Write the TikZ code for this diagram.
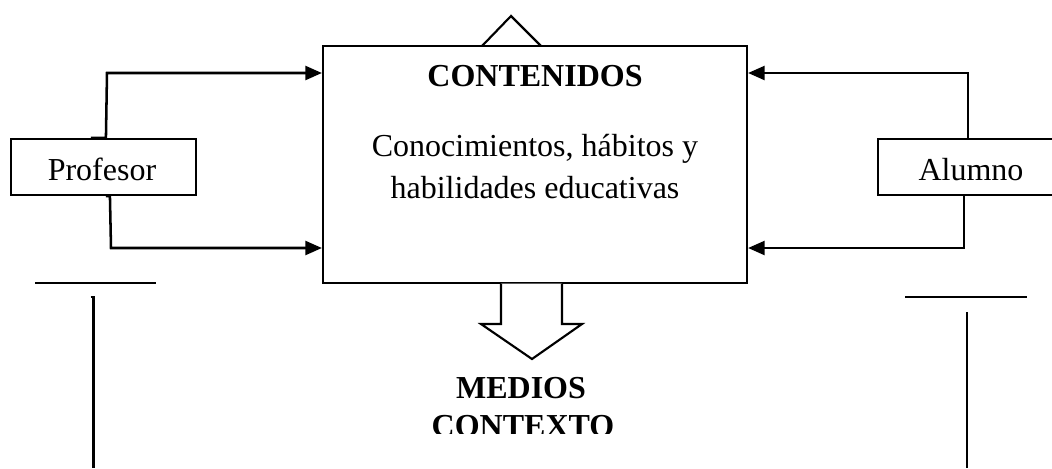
\documentclass[tikz,border=0pt]{standalone}
\usepackage{fontspec}
\setmainfont{Liberation Serif}
\usetikzlibrary{arrows.meta,calc}
\begin{document}
\begin{tikzpicture}[x=0.75pt,y=-0.75pt,
  txt/.style={font=\fontsize{24}{29}\selectfont, inner sep=0pt, anchor=base},
  btxt/.style={txt, font=\fontsize{24}{29}\selectfont\bfseries},
  boxed/.style={draw, inner sep=0pt, line width=1.6pt},
  thin/.style={line width=1.6pt},
  conn/.style={line width=1.9pt},
  arr/.style={conn, -{Triangle[length=12.5pt,width=10.5pt]}}]
\useasboundingbox (0,0) rectangle (1052,468);
\clip (0,0) rectangle (1052,468);
% boxes
\node[boxed, minimum width=318pt, minimum height=177.75pt] (main) at (535,164.5) {};
\node[boxed, minimum width=138.75pt, minimum height=42pt] (prof) at (103.5,167) {};
\node[boxed, minimum width=142.5pt, minimum height=42pt] (alum) at (973,167) {};
% texts
\node[btxt] (cont) at (535,86) {CONTENIDOS};
\node[txt] (l1) at (535,156) {Conocimientos, hábitos y};
\node[txt] (l2) at (535,198) {habilidades educativas};
\node[txt] (ptxt) at (102,180) {Profesor};
\node[txt] (atxt) at (971,180) {Alumno};
\node[btxt] (med) at (521,398) {MEDIOS};
\begin{scope}
\clip (380,400) rectangle (680,433);
\node[btxt] (ctx) at (523,436) {CONTEXTO};
\end{scope}
% triangle on top
\coordinate (tl) at (482,46);
\coordinate (tt) at (511,16);
\coordinate (tr) at (541,46);
\draw[thin] (tl) -- (tt) -- (tr);
% block arrow down
\draw[thin, fill=white] (501,283.5) -- (501,324) -- (481,324) -- (532,359) -- (582,324) -- (562,324) -- (562,283.5);
% connectors Profesor
\draw[arr] ($(prof.north west)+(81,0)$) -- ($(prof.north west)+(96,0)$) -- (107,73) -- (main.west |- 0,73);
\draw[arr] ($(prof.south west)+(96,0)$) -- ($(prof.south west)+(100,0)$) -- (111,248) -- (main.west |- 0,248);
% connectors Alumno
\draw[arr] (984,139) -- (968,139) -- (968,73) -- (main.east |- 0,73);
\draw[arr] (968,195) -- (964,195) -- (964,248) -- (main.east |- 0,248);
% free lines
\draw[thin] (35,283) -- (156,283);
\draw[thin] (90.5,297) -- (93.5,297) -- (93.5,468);
\draw[thin] (905,297) -- (1027,297);
\draw[thin] (966,313) -- (967,313) -- (967,468);
\end{tikzpicture}
\end{document}
